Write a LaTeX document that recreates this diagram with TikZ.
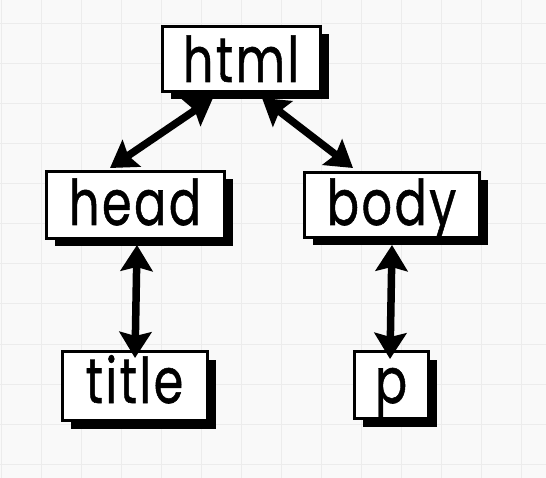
\documentclass[tikz,border=0pt]{standalone}
\usepackage{fontspec}
\setmainfont{Poppins}
\newfontfamily\tagfont{Poppins}[FakeBold=0.9, LetterSpace=5]
\usetikzlibrary{arrows.meta,shadows,calc}
\definecolor{bgcol}{HTML}{F9F9F9}
\definecolor{gridcol}{HTML}{ECECEC}
\newcommand{\lbl}[1]{\scalebox{0.76}[1]{#1}}
\begin{document}
\begin{tikzpicture}[x=1pt,y=-1pt,
  tagbox/.style={draw=black, line width=3pt, fill=white, inner sep=0pt,
    anchor=base, align=center,
    font=\tagfont\fontsize{63}{63}\selectfont,
    drop shadow={shadow xshift=9pt, shadow yshift=-8pt, opacity=1, fill=black}},
  arr/.style={line width=7.5pt, black,
    {Stealth[length=26pt,width=32pt,inset=4pt]}-{Stealth[length=26pt,width=32pt,inset=4pt]}}]
\useasboundingbox (0,0) rectangle (546,478);
\fill[bgcol] (0,0) rectangle (546,478);
\foreach \gx in {1,41,...,541} \draw[gridcol, line width=1pt] (\gx,0) -- (\gx,478);
\foreach \gy in {24,64,...,464} \draw[gridcol, line width=1pt] (0,\gy) -- (546,\gy);

\node[tagbox, minimum width=158pt, text height=55.5pt, text depth=9.5pt] (html) at (241,82) {\lbl{html}};
\node[tagbox, minimum width=178pt, text height=53.5pt, text depth=13.5pt] (head) at (135,225) {\lbl{head}};
\node[tagbox, minimum width=175pt, text height=52.5pt, text depth=12.5pt] (body) at (391.5,225) {\lbl{body}};
\node[tagbox, minimum width=145pt, text height=51.5pt, text depth=17.5pt] (title) at (134.5,403) {\lbl{title}};
\node[tagbox, minimum width=74pt, text height=51.5pt, text depth=15.5pt] (p) at (391,403) {\lbl{p}};

\draw[arr] ($(html.south)+(-28,5)$) -- ($(head.north)+(-25,-2)$);
\draw[arr] ($(html.south)+(21,5)$) -- ($(body.north)+(-38.5,-3)$);
\draw[arr] ($(head.south)+(2,5)$) -- ($(title.north)+(0.5,8)$);
\draw[arr] ($(body.south)+(0.5,6)$) -- ($(p.north)+(-1,9)$);
\end{tikzpicture}
\end{document}
